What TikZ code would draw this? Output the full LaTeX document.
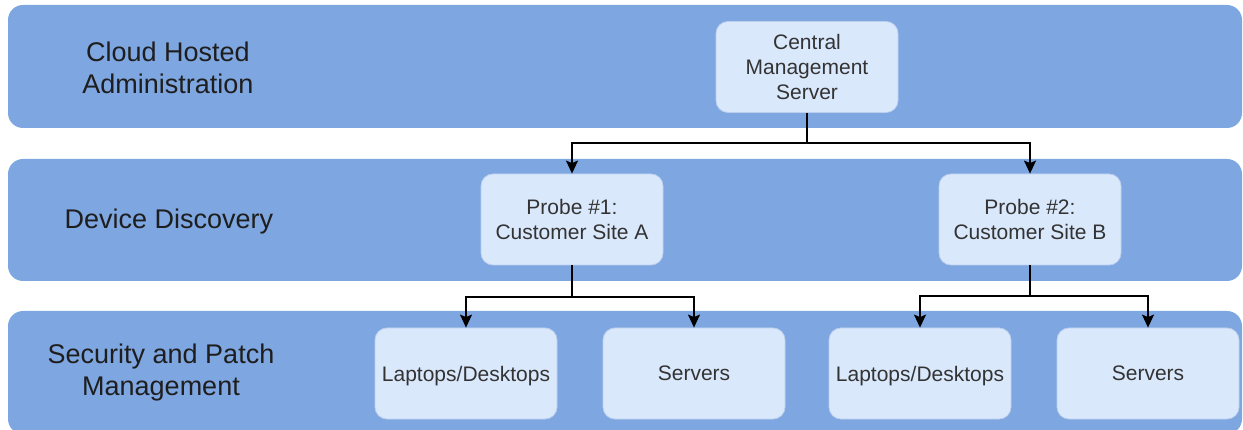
\documentclass[tikz,border=0pt]{standalone}
\usepackage{fontspec}
\setmainfont{Liberation Sans}
\usetikzlibrary{arrows.meta}

\definecolor{bandblue}{HTML}{7EA6E0}
\definecolor{boxfill}{HTML}{DAE8FC}
\definecolor{boxedge}{HTML}{BCD0EE}
\definecolor{boxtext}{HTML}{333333}
\definecolor{bandtext}{HTML}{1E1E1E}

\tikzset{
  band/.style={fill=bandblue, draw=none, rounded corners=15pt},
  bandlabel/.style={align=center, text=bandtext, font=\fontsize{27}{32}\selectfont, inner sep=0pt},
  unitbox/.style={rectangle, rounded corners=12pt, fill=boxfill, draw=boxedge, line width=0.8pt,
    minimum width=182pt, minimum height=91pt, inner sep=0pt, align=center, text depth=0pt,
    text=boxtext, font=\fontsize{21}{25}\selectfont},
  conn/.style={draw=black, line width=1.5pt,
    -{Stealth[length=13pt, width=12pt, inset=2.5pt]}}
}

\begin{document}
\begin{tikzpicture}[x=1pt, y=-1pt]
  \useasboundingbox (0,0) rectangle (1243,430);
  \clip (0,0) rectangle (1243,430);

  % the three tiers
  \path[band] (8,5) rectangle (1242,128);
  \path[band] (8,159) rectangle (1242,281);
  \path[band] (8,311) rectangle (1242,434);

  % tier names
  \node[bandlabel] (lcloud) at (168,68) {Cloud Hosted\\Administration};
  \node[bandlabel] (ldisc)  at (169,222) {Device Discovery};
  \node[bandlabel] (lsec)   at (161,373) {Security and Patch\\Management};

  % boxes
  \node[unitbox] (cms) at (807,67)    {Central\\Management\\Server};
  \node[unitbox] (p1)  at (572,219.5) {Probe \#1:\\Customer Site A};
  \node[unitbox] (p2)  at (1030,219.5) {Probe \#2:\\Customer Site B};
  \node[unitbox] (ld1) at (466,373.5)  {Laptops/Desktops};
  \node[unitbox] (sv1) at (694,373.5)  {Servers};
  \node[unitbox] (ld2) at (920,373.5)  {Laptops/Desktops};
  \node[unitbox] (sv2) at (1148,373.5) {Servers};

  % bus levels of the tree connectors
  \coordinate (bus0) at (0,143);
  \coordinate (bus1) at (0,297);
  \coordinate (bus2) at (0,296);

  \draw[conn] (cms.south) -- (cms.south |- bus0) -| (p1.north);
  \draw[conn] (cms.south) -- (cms.south |- bus0) -| (p2.north);
  \draw[conn] (p1.south) -- (p1.south |- bus1) -| (ld1.north);
  \draw[conn] (p1.south) -- (p1.south |- bus1) -| (sv1.north);
  \draw[conn] (p2.south) -- (p2.south |- bus2) -| (ld2.north);
  \draw[conn] (p2.south) -- (p2.south |- bus2) -| (sv2.north);
\end{tikzpicture}
\end{document}
